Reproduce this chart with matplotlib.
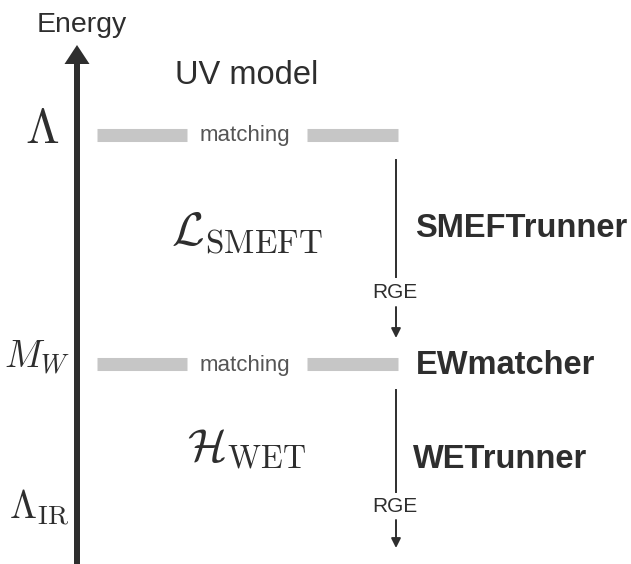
import matplotlib
matplotlib.use('Agg')

import matplotlib.pyplot as plt

plt.rcParams['font.family'] = ['Liberation Sans', 'DejaVu Sans']
plt.rcParams['mathtext.fontset'] = 'cm'

# textos do diagrama
scale_labels = [r'$\Lambda$', r'$M_W$', r'$\Lambda_{\rm IR}$']
theory_labels = [r'$\mathcal{L}_{\rm SMEFT}$', r'$\mathcal{H}_{\rm WET}$']
tool_labels = ['SMEFTrunner', 'EWmatcher', 'WETrunner']
matching_label = 'matching'
rge_label = 'RGE'

dark = '#2e2e2e'
grey_bar = '#c6c6c6'

fig = plt.figure(figsize=(6.31, 5.64), dpi=100)
ax = fig.add_axes([0, 0, 1, 1])
ax.set_xlim(0, 631)
ax.set_ylim(564, 0)
ax.axis('off')

# seta da energia
ax.arrow(77, 564, 0, -519, width=6, head_width=25, head_length=19,
         length_includes_head=True, color=dark, lw=0)
ax.text(82, 32, 'Energy', ha='center', va='baseline', fontsize=20.5, color=dark)
ax.text(175, 84, 'UV model', ha='left', va='baseline', fontsize=23.5, color=dark)

# escalas à esquerda
ax.text(42, 143, scale_labels[0], ha='center', va='baseline', fontsize=35, color=dark)
ax.text(70, 368, scale_labels[1], ha='right', va='baseline', fontsize=27, color=dark)
ax.text(70, 519, scale_labels[2], ha='right', va='baseline', fontsize=28, color=dark)

# barras de matching
for y in [134.5, 364]:
    ax.plot([97, 187], [y, y], color=grey_bar, lw=9.4, solid_capstyle='butt')
    ax.plot([307, 398], [y, y], color=grey_bar, lw=9.4, solid_capstyle='butt')
    ax.text(245, y + 7, matching_label, ha='center', va='baseline', fontsize=16, color='#555555')

# teorias efetivas
ax.text(247, 244, theory_labels[0], ha='center', va='baseline', fontsize=34, color=dark)
ax.text(247, 462, theory_labels[1], ha='center', va='baseline', fontsize=33, color=dark)

# running (RGE)
for top, bottom, rge_y, a0, a1 in [(160, 277, 293, 307, 338), (390, 492, 506, 520, 548)]:
    ax.plot([396, 396], [top, bottom], color=dark, lw=1.4)
    ax.text(395, rge_y, rge_label, ha='center', va='center', fontsize=15, color=dark)
    ax.annotate('', xy=(396, a1), xytext=(396, a0),
                arrowprops=dict(arrowstyle='-|>', lw=1.4, color=dark,
                                mutation_scale=14, shrinkA=0, shrinkB=0))

# ferramentas
ax.text(415, 237, tool_labels[0], ha='left', va='baseline', fontsize=23.5,
        fontweight='bold', color=dark)
ax.text(416, 374, tool_labels[1], ha='left', va='baseline', fontsize=23.5,
        fontweight='bold', color=dark)
ax.text(413, 468, tool_labels[2], ha='left', va='baseline', fontsize=23.5,
        fontweight='bold', color=dark)

fig.savefig('out.png', dpi=100)
plt.close(fig)
